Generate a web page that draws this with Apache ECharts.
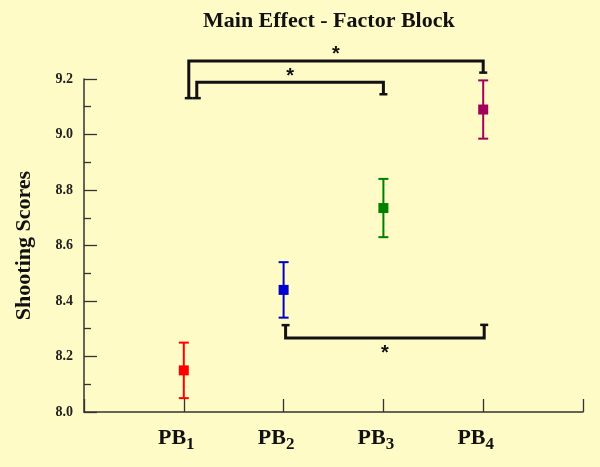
<!DOCTYPE html>
<html>
<head>
<meta charset="utf-8">
<script src="https://cdn.jsdelivr.net/npm/echarts@6/dist/echarts.min.js"></script>
<style>
html,body{margin:0;padding:0;background:#fffbc6;}
#chart{width:600px;height:467px;}
</style>
</head>
<body>
<div id="chart"></div>
<script>
// Data
var categories = ['PB1', 'PB2', 'PB3', 'PB4'];
var subscripts = ['1', '2', '3', '4'];
var categoryPos = [1, 2, 3, 4];
var means = [8.15, 8.44, 8.735, 9.09];
var errors = [0.10, 0.10, 0.105, 0.105];
var colors = ['#ff0000', '#0000cc', '#008000', '#a0005c'];
var yTicks = [8.0, 8.2, 8.4, 8.6, 8.8, 9.0, 9.2];

// Significance brackets (data units)
var bracketX1 = [1.05, 1.13, 2.02];
var bracketX2 = [4.0, 3.0, 4.01];
var bracketLevel = [9.265, 9.188, 8.267];
var bracketLeftEnd = [9.131, 9.131, 8.313];
var bracketRightEnd = [9.223, 9.145, 8.314];
var bracketLabel = ['*', '*', '*'];
var bracketLabelSide = [-1, -1, 1]; // -1 above, 1 below

var chart = echarts.init(document.getElementById('chart'));

var serif = 'Liberation Serif';

var errData = categoryPos.map(function (x, i) { return [x, means[i], errors[i]]; });
var pointData = categoryPos.map(function (x, i) {
  return { value: [x, means[i]], itemStyle: { color: colors[i], opacity: 1 } };
});
var bracketData = bracketX1.map(function (x1, i) {
  return [x1, bracketX2[i], bracketLevel[i], bracketLeftEnd[i], bracketRightEnd[i], bracketLabelSide[i]];
});

var option = {
  backgroundColor: '#fffbc6',
  animation: false,
  title: {
    text: 'Main Effect - Factor Block',
    left: 203,
    top: 10,
    padding: 0,
    textStyle: { fontFamily: serif, fontSize: 22, fontWeight: 'bold', color: '#111' }
  },
  grid: { left: 84, right: 17, top: 79, bottom: 55 },
  xAxis: {
    type: 'value',
    min: 0, max: 5, interval: 1,
    splitLine: { show: false },
    axisLine: { show: true, lineStyle: { color: '#333', width: 1.5 } },
    axisTick: { show: true, inside: true, length: 13, lineStyle: { color: '#333', width: 1.3 } },
    axisLabel: {
      margin: 15,
      formatter: function (v) {
        var idx = categoryPos.indexOf(v);
        if (idx < 0) return '';
        return '{a|PB}{b|' + subscripts[idx] + '}{s|}';
      },
      rich: {
        a: { fontFamily: serif, fontSize: 22, fontWeight: 'bold', color: '#111', lineHeight: 26, verticalAlign: 'top', padding: [0, 0, 3, 0] },
        b: { fontFamily: serif, fontSize: 17, fontWeight: 'bold', color: '#111', lineHeight: 17, verticalAlign: 'bottom' },
        s: { width: 15, lineHeight: 12 }
      }
    }
  },
  yAxis: {
    type: 'value',
    min: 8.0, max: 9.2, interval: 0.2,
    name: 'Shooting Scores',
    nameLocation: 'middle',
    nameRotate: 90,
    nameGap: 49,
    nameTextStyle: { fontFamily: serif, fontSize: 22, fontWeight: 'bold', color: '#111' },
    splitLine: { show: false },
    axisLine: { show: true, lineStyle: { color: '#333', width: 1.5 } },
    axisTick: { show: true, inside: true, length: 13, lineStyle: { color: '#333', width: 1.3 } },
    minorTick: { show: true, splitNumber: 2, length: 7, lineStyle: { color: '#333', width: 1.3 } },
    axisLabel: {
      margin: 11,
      fontFamily: serif, fontSize: 14, fontWeight: 'bold', color: '#222',
      formatter: function (v) { return v.toFixed(1); }
    }
  },
  series: [
    {
      type: 'custom',
      clip: false,
      data: errData,
      renderItem: function (params, api) {
        var i = params.dataIndex;
        var x = api.value(0), m = api.value(1), e = api.value(2);
        var top = api.coord([x, m + e]);
        var bot = api.coord([x, m - e]);
        var hw = 5;
        var style = { stroke: colors[i], lineWidth: 2 };
        return {
          type: 'group',
          children: [
            { type: 'line', shape: { x1: top[0], y1: top[1], x2: bot[0], y2: bot[1] }, style: style },
            { type: 'line', shape: { x1: top[0] - hw, y1: top[1], x2: top[0] + hw, y2: top[1] }, style: style },
            { type: 'line', shape: { x1: bot[0] - hw, y1: bot[1], x2: bot[0] + hw, y2: bot[1] }, style: style }
          ]
        };
      },
      z: 2
    },
    {
      type: 'scatter',
      symbol: 'rect',
      symbolSize: 10,
      itemStyle: { opacity: 1 },
      data: pointData,
      z: 3
    },
    {
      type: 'custom',
      clip: false,
      data: bracketData,
      renderItem: function (params, api) {
        var x1 = api.value(0), x2 = api.value(1), lv = api.value(2);
        var le = api.value(3), re = api.value(4), side = api.value(5);
        var pL = api.coord([x1, lv]);
        var pR = api.coord([x2, lv]);
        var pLe = api.coord([x1, le]);
        var pRe = api.coord([x2, re]);
        var hw = 4;
        var capStyle = { stroke: '#111', lineWidth: 2.5 };
        var midX = (pL[0] + pR[0]) / 2;
        return {
          type: 'group',
          children: [
            { type: 'polyline', shape: { points: [pLe, pL, pR, pRe] }, style: { stroke: '#111', lineWidth: 3, fill: null, lineJoin: 'miter' } },
            { type: 'line', shape: { x1: pLe[0] - hw, y1: pLe[1], x2: pLe[0] + hw, y2: pLe[1] }, style: capStyle },
            { type: 'line', shape: { x1: pRe[0] - hw, y1: pRe[1], x2: pRe[0] + hw, y2: pRe[1] }, style: capStyle },
            {
              type: 'text',
              style: {
                text: bracketLabel[params.dataIndex],
                x: midX,
                y: pL[1] + side * 9 + (side < 0 ? 3 : 7),
                align: 'center',
                verticalAlign: 'middle',
                font: 'bold 20px "Liberation Sans"',
                fill: '#111'
              }
            }
          ]
        };
      },
      z: 4
    }
  ]
};

chart.setOption(option);
</script>
</body>
</html>
